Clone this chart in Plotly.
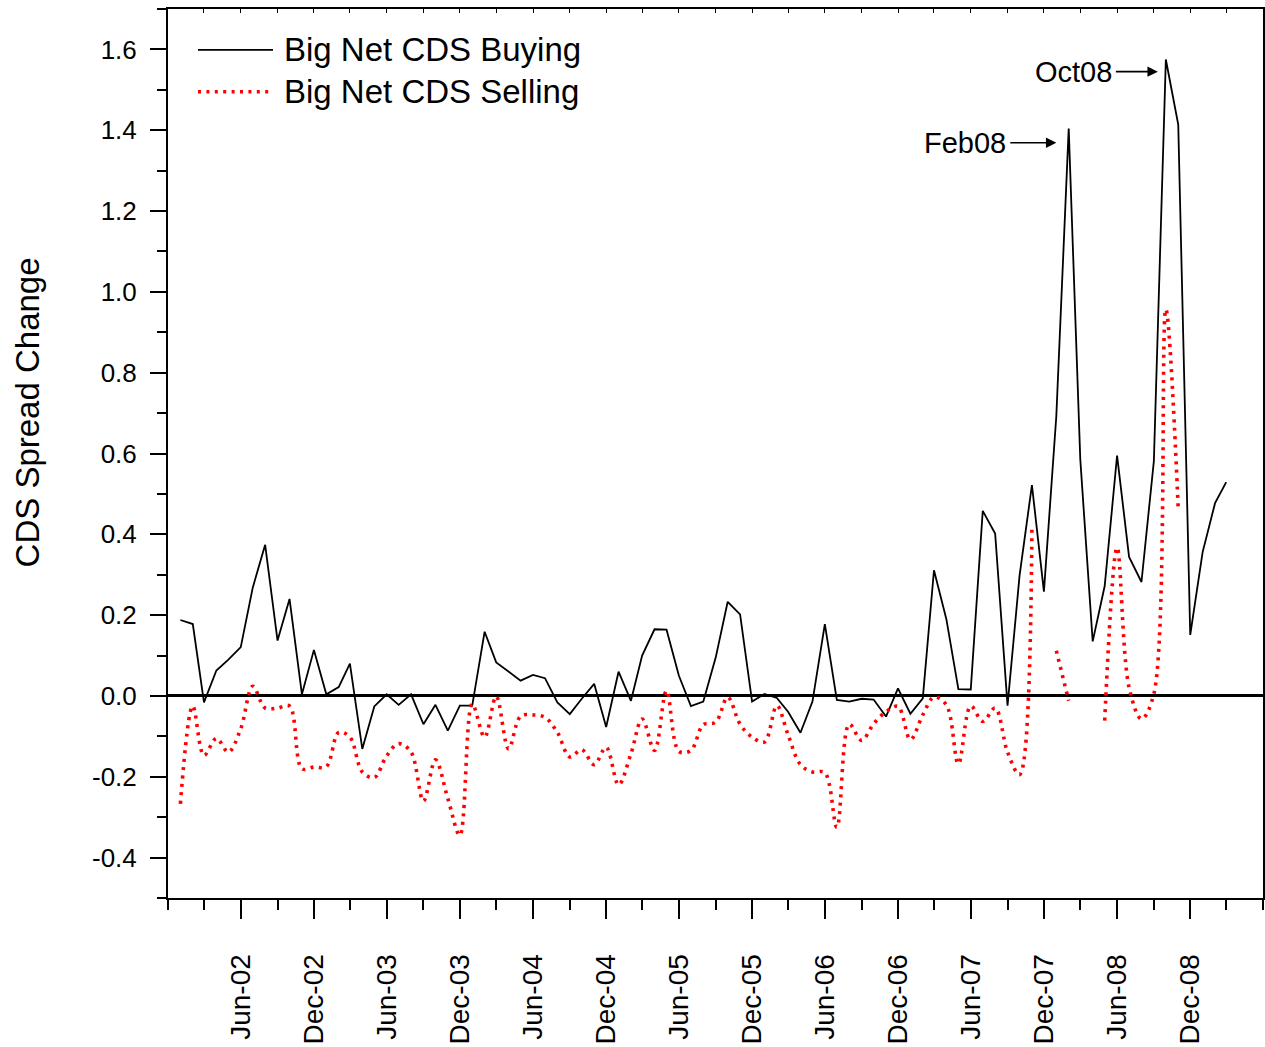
import numpy as np
import pandas as pd
import plotly.graph_objects as go

# ---------------- data ----------------
months = pd.date_range("2002-01-01", "2009-03-01", freq="MS")

buying = [
    0.188, 0.178, -0.016, 0.063, 0.090, 0.121, 0.268, 0.374, 0.137, 0.240, 0.004, 0.114,   # 2002
    0.004, 0.022, 0.080, -0.131, -0.026, 0.004, -0.022, 0.004, -0.070, -0.022, -0.086, -0.024,  # 2003
    -0.024, 0.159, 0.083, 0.060, 0.038, 0.052, 0.044, -0.016, -0.045, -0.007, 0.030, -0.077,  # 2004
    0.060, -0.012, 0.100, 0.165, 0.164, 0.050, -0.025, -0.014, 0.095, 0.233, 0.202, -0.014,  # 2005
    0.005, -0.005, -0.039, -0.091, -0.014, 0.178, -0.010, -0.014, -0.007, -0.009, -0.051, 0.019,  # 2006
    -0.044, -0.006, 0.311, 0.190, 0.017, 0.016, 0.458, 0.402, -0.024, 0.297, 0.522, 0.258,  # 2007
    0.692, 1.404, 0.585, 0.135, 0.272, 0.595, 0.344, 0.282, 0.581, 1.575, 1.414, 0.151,  # 2008
    0.356, 0.477, 0.529,  # 2009
]

selling = [
    -0.267, -0.025, -0.147, -0.105, -0.139, -0.081, 0.024, -0.030, -0.030, -0.025, -0.180, -0.176,  # 2002
    -0.175, -0.090, -0.102, -0.188, -0.202, -0.148, -0.118, -0.139, -0.260, -0.158, -0.254, -0.345,  # 2003
    -0.020, -0.102, -0.001, -0.131, -0.050, -0.047, -0.053, -0.090, -0.151, -0.133, -0.170, -0.127,  # 2004
    -0.220, -0.143, -0.057, -0.135, 0.013, -0.137, -0.135, -0.071, -0.065, -0.003, -0.070, -0.102,  # 2005
    -0.114, -0.024, -0.096, -0.170, -0.188, -0.190, -0.325, -0.070, -0.110, -0.069, -0.039, -0.026,  # 2006
    -0.108, -0.047, -0.003, -0.022, -0.168, -0.025, -0.063, -0.030, -0.139, -0.195, 0.420, None,  # 2007
    0.112, -0.012, None, None, -0.061, 0.367, 0.021, -0.057, 0.005, 0.957, 0.463, None,  # 2008
    None, None, None,  # 2009
]

series_names = ["Big Net CDS Buying", "Big Net CDS Selling"]

x_tick_dates = pd.date_range("2001-12-01", "2009-06-01", freq="6MS")
x_tick_labels = ["", "Jun-02", "Dec-02", "Jun-03", "Dec-03", "Jun-04", "Dec-04", "Jun-05",
                 "Dec-05", "Jun-06", "Dec-06", "Jun-07", "Dec-07", "Jun-08", "Dec-08", ""]
x_minor_dates = pd.date_range("2001-12-01", "2009-06-01", freq="3MS")

y_tick_vals = [-0.4, -0.2, 0.0, 0.2, 0.4, 0.6, 0.8, 1.0, 1.2, 1.4, 1.6]
y_tick_labels = ["-0.4", "-0.2", "0.0", "0.2", "0.4", "0.6", "0.8", "1.0", "1.2", "1.4", "1.6"]
y_minor_vals = list(np.round(np.arange(-0.5, 1.71, 0.1), 1))

callouts = ["Feb08", "Oct08"]
callout_months = ["2008-02-01", "2008-10-01"]

# ---------------- figure ----------------
FONT = "Arial, Liberation Sans, Helvetica, sans-serif"
RED = "#ff0000"
RED_DASH = "3px,5.4px"
RED_W = 3.6
BLACK_W = 1.8

fig = go.Figure()
fig.add_trace(go.Scatter(
    x=months, y=buying, mode="lines", name=series_names[0],
    line=dict(color="black", width=BLACK_W), showlegend=False,
))
fig.add_trace(go.Scatter(
    x=months, y=selling, mode="lines", name=series_names[1],
    line=dict(color=RED, width=RED_W, dash=RED_DASH, shape="spline"),
    connectgaps=False, showlegend=False,
))
# helper trace so the top overlay axis is drawn
fig.add_trace(go.Scatter(x=[months[0]], y=[None], xaxis="x2", yaxis="y",
                         mode="lines", showlegend=False, hoverinfo="skip"))

axis_common = dict(showgrid=False, showline=True, linewidth=2, linecolor="black",
                   ticks="outside", tickwidth=2, tickcolor="black", mirror=True,
                   automargin=False)

fig.update_layout(
    width=1265, height=1047,
    margin=dict(l=168, r=2, t=9, b=149),
    paper_bgcolor="white", plot_bgcolor="white",
    font=dict(family=FONT, color="black"),
    xaxis=dict(
        **axis_common,
        type="date", range=["2001-12-01", "2009-06-01"],
        tickmode="array", tickvals=x_tick_dates, ticktext=x_tick_labels,
        tickangle=-90, ticklen=19, zeroline=False,
        tickfont=dict(size=28, family=FONT, color="black"),
        ticklabelstandoff=24,
        minor=dict(tickmode="array", tickvals=x_minor_dates, ticks="outside",
                   ticklen=10, tickwidth=2, tickcolor="black", showgrid=False),
    ),
    xaxis2=dict(
        overlaying="x", side="top", type="date", range=["2001-12-01", "2009-06-01"],
        tickmode="array", tickvals=x_minor_dates, ticks="inside", ticklen=4,
        tickwidth=1, tickcolor="black", showticklabels=False, showline=False,
        showgrid=False, zeroline=False, automargin=False,
    ),
    yaxis=dict(
        **axis_common,
        range=[-0.5, 1.7],
        tickmode="array", tickvals=y_tick_vals, ticktext=y_tick_labels,
        ticklen=16,
        tickfont=dict(size=26, family=FONT, color="black"),
        ticklabelstandoff=8,
        zeroline=True, zerolinecolor="black", zerolinewidth=2.5,
        minor=dict(tickmode="array", tickvals=y_minor_vals, ticks="outside",
                   ticklen=9, tickwidth=2, tickcolor="black", showgrid=False),
    ),
)

# manual legend (long line samples as in the original)
legend_rows = [(0.954, dict(color="black", width=BLACK_W)),
               (0.907, dict(color=RED, width=RED_W, dash=RED_DASH))]
for (yy, ln), name in zip(legend_rows, series_names):
    fig.add_shape(type="line", xref="paper", yref="paper",
                  x0=0.0274, x1=0.0959, y0=yy, y1=yy, line=ln)
    fig.add_annotation(xref="paper", yref="paper", x=0.104, y=yy, text=name,
                       showarrow=False, xanchor="left", yanchor="middle",
                       font=dict(size=33, family=FONT, color="black"))

# y-axis title
fig.add_annotation(xref="paper", yref="paper", x=-0.128, y=0.546,
                   text="CDS Spread Change", textangle=-90, showarrow=False,
                   xanchor="center", yanchor="middle",
                   font=dict(size=33, family=FONT, color="black"))

# peak callouts
offsets = [(31, 0.035, -46), (20, 0.03, -42)]
for label, m, (dd, dv, ax) in zip(callouts, callout_months, offsets):
    idx = list(months).index(pd.Timestamp(m))
    head_x = pd.Timestamp(m) - pd.Timedelta(days=dd)
    head_y = buying[idx] - dv
    fig.add_annotation(x=head_x, y=head_y, xref="x", yref="y", text=label,
                       showarrow=True, arrowhead=2, arrowsize=1.3, arrowwidth=1.6,
                       arrowcolor="black", ax=ax, ay=0, axref="pixel", ayref="pixel",
                       xanchor="right", yanchor="middle", borderpad=3,
                       font=dict(size=29, family=FONT, color="black"))

fig.write_html("out.html", config={"displayModeBar": False},
               post_script="document.body.style.margin='0';")
